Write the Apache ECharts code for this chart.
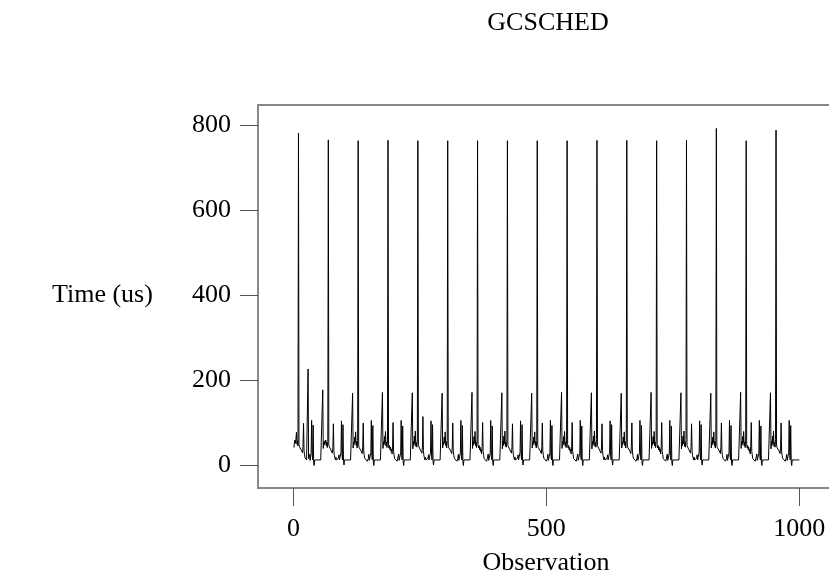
<!DOCTYPE html>
<html>
<head>
<meta charset="utf-8">
<script src="https://cdn.jsdelivr.net/npm/echarts@6/dist/echarts.min.js"></script>
<style>
body { margin: 0; background: #fff; }
#gcsched_line { width: 829px; height: 577px; }
</style>
</head>
<body>
<div id="gcsched_line"></div>
<script>
var xTicks = [0, 500, 1000];
var yTicks = [0, 200, 400, 600, 800];

// one value per observation, observation 1 .. 1000
var timeUs = [
	42, 55, 60, 52, 62, 78, 50, 58, 46,
	// 1
	782, 50, 44, 47, 40, 42, 35, 38, 30, 45,
	99, 35, 25, 18, 14, 20, 13, 13, 10, 227,
	16, 13, 26, 12, 13, 30, 106, 25, 13, 95,
	8, 0, 13, 13, 14, 13, 13, 13, 12, 13,
	13, 13, 13, 14, 13, 13, 13, 13, 178, 40,
	55, 48, 58, 52, 60, 46, 55, 42, 56,
	// 2
	766, 47, 43, 45, 39, 41, 35, 36, 29, 43,
	98, 35, 23, 18, 13, 20, 13, 12, 11, 13,
	17, 25, 13, 13, 12, 31, 105, 25, 13, 96,
	9, 1, 13, 13, 13, 14, 13, 13, 13, 12,
	13, 13, 14, 13, 13, 13, 13, 13, 170, 41,
	55, 49, 67, 53, 79, 47, 56, 41, 59,
	// 3
	764, 48, 42, 46, 38, 42, 34, 37, 28, 44,
	100, 34, 24, 17, 14, 19, 13, 13, 10, 14,
	16, 26, 12, 13, 13, 30, 106, 24, 13, 94,
	8, 0, 13, 13, 14, 13, 13, 13, 12, 13,
	13, 13, 13, 14, 13, 13, 13, 13, 172, 40,
	56, 48, 68, 52, 80, 46, 55, 42, 60,
	// 4
	765, 49, 41, 47, 37, 43, 33, 38, 27, 45,
	101, 33, 25, 16, 15, 18, 13, 13, 10, 14,
	15, 27, 12, 13, 13, 29, 106, 23, 13, 93,
	8, 0, 13, 14, 13, 13, 13, 12, 13, 13,
	13, 14, 13, 13, 13, 13, 13, 13, 171, 39,
	57, 47, 69, 51, 81, 45, 54, 43, 61,
	// 5
	764, 47, 43, 45, 39, 41, 35, 36, 29, 43,
	115, 35, 23, 18, 13, 20, 13, 12, 11, 13,
	17, 25, 13, 13, 12, 31, 105, 25, 13, 96,
	9, 1, 13, 13, 13, 14, 13, 13, 13, 12,
	13, 13, 14, 13, 13, 13, 13, 13, 170, 41,
	55, 49, 67, 53, 79, 47, 56, 41, 59,
	// 6
	764, 48, 42, 46, 38, 42, 34, 37, 28, 44,
	100, 34, 24, 17, 14, 19, 13, 13, 10, 14,
	16, 26, 12, 13, 13, 30, 106, 24, 13, 94,
	8, 0, 13, 13, 14, 13, 13, 13, 12, 13,
	13, 13, 13, 14, 13, 13, 13, 13, 172, 40,
	56, 48, 68, 52, 80, 46, 55, 42, 60,
	// 7
	764, 49, 41, 47, 37, 43, 33, 38, 27, 45,
	101, 33, 25, 16, 15, 18, 13, 13, 10, 14,
	15, 27, 12, 13, 13, 29, 106, 23, 13, 93,
	8, 0, 13, 14, 13, 13, 13, 12, 13, 13,
	13, 14, 13, 13, 13, 13, 13, 13, 171, 39,
	57, 47, 69, 51, 81, 45, 54, 43, 61,
	// 8
	764, 47, 43, 45, 39, 41, 35, 36, 29, 43,
	98, 35, 23, 18, 13, 20, 13, 12, 11, 13,
	17, 25, 13, 13, 12, 31, 105, 25, 13, 96,
	9, 1, 13, 13, 13, 14, 13, 13, 13, 12,
	13, 13, 14, 13, 13, 13, 13, 13, 170, 41,
	55, 49, 67, 53, 79, 47, 56, 41, 59,
	// 9
	764, 48, 42, 46, 38, 42, 34, 37, 28, 44,
	100, 34, 24, 17, 14, 19, 13, 13, 10, 14,
	16, 26, 12, 13, 13, 30, 106, 24, 13, 94,
	8, 0, 13, 13, 14, 13, 13, 13, 12, 13,
	13, 13, 13, 14, 13, 13, 13, 13, 172, 40,
	56, 48, 68, 52, 80, 46, 55, 42, 60,
	// 10
	764, 49, 41, 47, 37, 43, 33, 38, 27, 45,
	101, 33, 25, 16, 15, 18, 13, 13, 10, 14,
	15, 27, 12, 13, 13, 29, 106, 23, 13, 93,
	8, 0, 13, 14, 13, 13, 13, 12, 13, 13,
	13, 14, 13, 13, 13, 13, 13, 13, 171, 39,
	57, 47, 69, 51, 81, 45, 54, 43, 61,
	// 11
	765, 47, 43, 45, 39, 41, 35, 36, 29, 43,
	98, 35, 23, 18, 13, 20, 13, 12, 11, 13,
	17, 25, 13, 13, 12, 31, 105, 25, 13, 96,
	9, 1, 13, 13, 13, 14, 13, 13, 13, 12,
	13, 13, 14, 13, 13, 13, 13, 13, 170, 41,
	55, 49, 67, 53, 79, 47, 56, 41, 59,
	// 12
	765, 48, 42, 46, 38, 42, 34, 37, 28, 44,
	100, 34, 24, 17, 14, 19, 13, 13, 10, 14,
	16, 26, 12, 13, 13, 30, 106, 24, 13, 94,
	8, 0, 13, 13, 14, 13, 13, 13, 12, 13,
	13, 13, 13, 14, 13, 13, 13, 13, 172, 40,
	56, 48, 68, 52, 80, 46, 55, 42, 60,
	// 13
	764, 49, 41, 47, 37, 43, 33, 38, 27, 45,
	101, 33, 25, 16, 15, 18, 13, 13, 10, 14,
	15, 27, 12, 13, 13, 29, 106, 23, 13, 93,
	8, 0, 13, 14, 13, 13, 13, 12, 13, 13,
	13, 14, 13, 13, 13, 13, 13, 13, 171, 39,
	57, 47, 69, 51, 81, 45, 54, 43, 61,
	// 14
	765, 47, 43, 45, 39, 41, 35, 36, 29, 43,
	98, 35, 23, 18, 13, 20, 13, 12, 11, 13,
	17, 25, 13, 13, 12, 31, 105, 25, 13, 96,
	9, 1, 13, 13, 13, 14, 13, 13, 13, 12,
	13, 13, 14, 13, 13, 13, 13, 13, 170, 41,
	55, 49, 67, 53, 79, 47, 56, 41, 59,
	// 15
	793, 48, 42, 46, 38, 42, 34, 37, 28, 44,
	100, 34, 24, 17, 14, 19, 13, 13, 10, 14,
	16, 26, 12, 13, 13, 30, 106, 24, 13, 94,
	8, 0, 13, 13, 14, 13, 13, 13, 12, 13,
	13, 13, 13, 14, 13, 13, 13, 13, 172, 40,
	56, 48, 68, 52, 80, 46, 55, 42, 60,
	// 16
	764, 49, 41, 47, 37, 43, 33, 38, 27, 45,
	101, 33, 25, 16, 15, 18, 13, 13, 10, 14,
	15, 27, 12, 13, 13, 29, 106, 23, 13, 93,
	8, 0, 13, 14, 13, 13, 13, 12, 13, 13,
	13, 14, 13, 13, 13, 13, 13, 13, 171, 39,
	57, 47, 69, 51, 81, 45, 54, 43, 61,
	// 17
	789, 48, 42, 46, 38, 42, 34, 37, 28, 44,
	100, 34, 24, 17, 14, 19, 13, 13, 10, 14,
	16, 26, 12, 13, 13, 30, 106, 24, 13, 94,
	8, 0, 13, 13, 14, 13, 13, 13, 12, 13,
	13, 13, 13, 14, 13, 13, 13
];

var serif = 'Liberation Serif';

function setChartLine() {
	var Chart = echarts.init(document.getElementById('gcsched_line'));
	var points = [];
	for (var i = 0; i < timeUs.length; i++) {
		points.push([i + 1, timeUs[i]]);
	}
	var textStyle = { fontFamily : serif, fontSize : 26, fontWeight : 'normal', color : '#000' };
	var option = {
		animation : false,
		backgroundColor : '#fff',
		// title and both axis names
		title : [ {
			text : 'GCSCHED',
			left : 548,
			top : 10,
			padding : 0,
			textAlign : 'center',
			textStyle : textStyle
		}, {
			text : 'Time (us)',
			left : 52,
			top : 282,
			padding : 0,
			textStyle : textStyle
		}, {
			text : 'Observation',
			left : 546,
			top : 550,
			padding : 0,
			textAlign : 'center',
			textStyle : textStyle
		} ],
		// box runs off the right edge, like the original
		grid : {
			left : 258,
			top : 105,
			width : 600,
			height : 383,
			outerBoundsMode : 'none',
			show : true,
			borderColor : '#888',
			borderWidth : 2
		},
		xAxis : {
			type : 'value',
			min : -70,
			max : 1116,
			splitLine : { show : false },
			axisLine : { show : false, onZero : false },
			axisTick : { show : true, customValues : xTicks, length : 18, lineStyle : { color : '#555' } },
			axisLabel : {
				customValues : xTicks,
				margin : 28,
				color : '#000',
				fontFamily : serif,
				fontSize : 26,
				formatter : function(v) { return String(v); }
			}
		},
		yAxis : {
			type : 'value',
			min : -53,
			max : 848,
			splitLine : { show : false },
			axisLine : { show : false, onZero : false },
			axisTick : { show : true, customValues : yTicks, length : 18, lineStyle : { color : '#555' } },
			axisLabel : {
				customValues : yTicks,
				margin : 27,
				color : '#000',
				fontFamily : serif,
				fontSize : 26,
				formatter : function(v) { return String(v); }
			}
		},
		series : [ {
			name : 'GCSCHED',
			type : 'line',
			showSymbol : false,
			silent : true,
			lineStyle : { color : '#000', width : 1 },
			data : points
		} ]
	};
	Chart.setOption(option);
}

setChartLine();
</script>
</body>
</html>
